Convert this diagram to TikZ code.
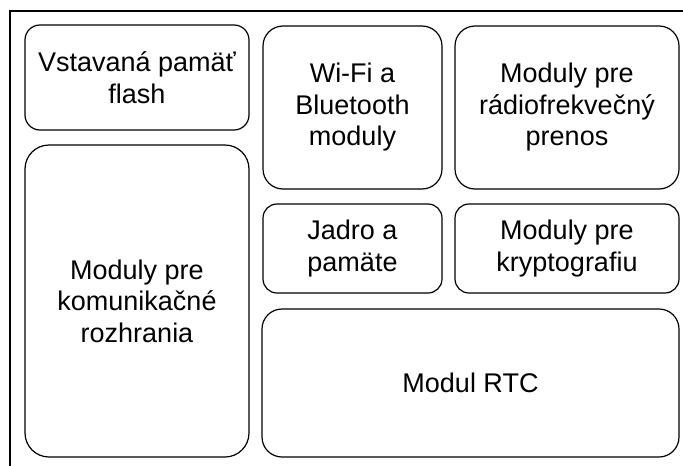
\documentclass[tikz,border=0pt]{standalone}
\usepackage{fontspec}
\setmainfont{Liberation Sans}
\tikzset{
  blk/.style={draw=black, line width=1.2pt, fill=white, inner sep=0pt, align=center,
    font=\fontsize{27}{31.5}\selectfont},
  frameline/.style={draw=black, line width=1.2pt}
}
\begin{document}
\begin{tikzpicture}[x=1pt,y=-1pt]
\useasboundingbox (0,0) rectangle (683,466);
\coordinate (fbl) at (10,466);
\coordinate (ftl) at (10,11);
\coordinate (ftr) at (683,11);
\draw[frameline] (fbl) -- (ftl) -- (ftr);
\node[blk, rounded corners=15pt, minimum width=224pt, minimum height=105pt] (flash) at (137,77.5) {Vstavaná pamäť\\flash};
\node[blk, rounded corners=24pt, minimum width=224pt, minimum height=312pt] (kom) at (137,301) {Moduly pre\\komunikačné\\rozhrania};
\node[blk, rounded corners=20pt, minimum width=179pt, minimum height=163pt] (wifi) at (352.5,107.5) {Wi-Fi a\\Bluetooth\\moduly};
\node[blk, rounded corners=20pt, minimum width=224pt, minimum height=163pt] (rf) at (567,107.5) {Moduly pre\\rádiofrekvečný\\prenos};
\node[blk, rounded corners=14pt, minimum width=179pt, minimum height=89pt] (jadro) at (352.5,248.5) {Jadro a\\pamäte};
\node[blk, rounded corners=14pt, minimum width=224pt, minimum height=89pt] (krypto) at (567,248.5) {Moduly pre\\kryptografiu};
\node[blk, rounded corners=20pt, minimum width=417pt, minimum height=148pt] (rtc) at (470.5,383) {Modul RTC};
\end{tikzpicture}
\end{document}
